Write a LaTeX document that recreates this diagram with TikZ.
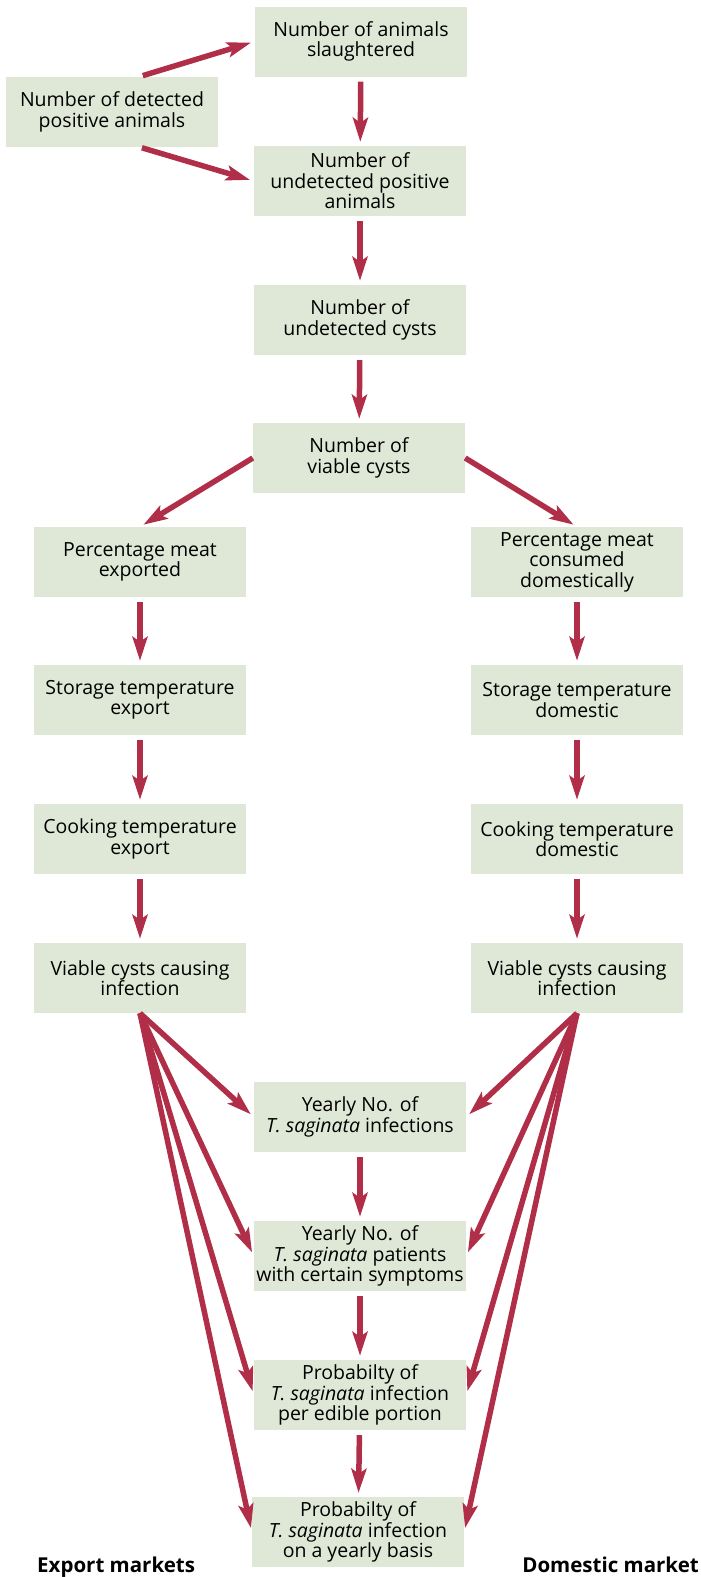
\documentclass[tikz,border=0pt]{standalone}
\usepackage{fontspec}
\setmainfont{Open Sans}
\usetikzlibrary{positioning, shapes.geometric, arrows.meta}
\definecolor{boxgreen}{RGB}{223,232,214}
\definecolor{arrowred}{RGB}{176,46,72}
\tikzset{
  box/.style={fill=boxgreen, minimum width=212pt, minimum height=70pt, inner sep=0pt,
    align=center, font=\fontsize{19.5}{20.5}\selectfont},
  arr/.style={draw=arrowred, line width=5.5pt, -{Stealth[length=24pt,width=15pt,inset=5pt]},
    shorten >=4pt, shorten <=5pt},
  mlabel/.style={font=\fontsize{20.5}{22}\selectfont\bfseries, inner sep=0pt}
}
\newcommand{\Ts}{\textit{T. saginata}}
\begin{document}
\begin{tikzpicture}[x=1pt, y=-1pt]
  \useasboundingbox (0,0) rectangle (701,1577);

  \node[box] (sl) at (361,41.5) {Number of animals\\slaughtered};
  \node[box] (det) at (112,112) {Number of detected\\positive animals};
  \node[box] (undet) at (360,181) {Number of\\undetected positive\\animals};
  \node[box] (cysts) at (360,320) {Number of\\undetected cysts};
  \node[box] (viable) at (359,458) {Number of\\viable cysts};

  \node[box] (expo) at (140,562) {Percentage meat\\exported};
  \node[box] (storex) at (140,700) {Storage temperature\\export};
  \node[box] (cookex) at (140,839) {Cooking temperature\\export};
  \node[box] (infex) at (140,978) {Viable cysts causing\\infection};

  \node[box] (dom) at (577,562) {Percentage meat\\consumed\\domestically};
  \node[box] (stordom) at (577,700) {Storage temperature\\domestic};
  \node[box] (cookdom) at (577,839) {Cooking temperature\\domestic};
  \node[box] (infdom) at (577,978) {Viable cysts causing\\infection};

  \node[box] (yinf) at (360,1117) {Yearly No. of\\\Ts{} infections};
  \node[box] (ypat) at (360,1256) {Yearly No. of\\\Ts{} patients\\with certain symptoms};
  \node[box] (pedible) at (360,1395) {Probabilty of\\\Ts{} infection\\per edible portion};
  \node[box] (pyear) at (358,1532) {Probabilty of\\\Ts{} infection\\on a yearly basis};

  \node[mlabel, anchor=base west] (lex) at (37,1572) {Export markets};
  \node[mlabel, anchor=base east] (ldom) at (699,1572) {Domestic market};

  \draw[arr, shorten <=4pt] ([xshift=27pt]det.north) -- (sl.west);
  \draw[arr, shorten <=2pt] ([xshift=28pt]det.south) -- (undet.west);
  \draw[arr] (sl) -- (undet); \draw[arr] (undet) -- (cysts); \draw[arr] (cysts) -- (viable);
  \draw[arr, shorten <=0pt] (viable.west) -- (expo.north);
  \draw[arr, shorten <=0pt] (viable.east) -- (dom.north);

  \draw[arr] (expo) -- (storex); \draw[arr] (storex) -- (cookex); \draw[arr] (cookex) -- (infex);
  \draw[arr] (dom) -- (stordom); \draw[arr] (stordom) -- (cookdom); \draw[arr] (cookdom) -- (infdom);

  \draw[arr] (yinf) -- (ypat); \draw[arr] (ypat) -- (pedible); \draw[arr] (pedible) -- (pyear);

  \foreach \t in {yinf, ypat, pedible, pyear} {
    \draw[arr, shorten <=0pt] (infex.south) -- (\t.west);
    \draw[arr, shorten <=0pt] (infdom.south) -- (\t.east);
  }
\end{tikzpicture}
\end{document}
